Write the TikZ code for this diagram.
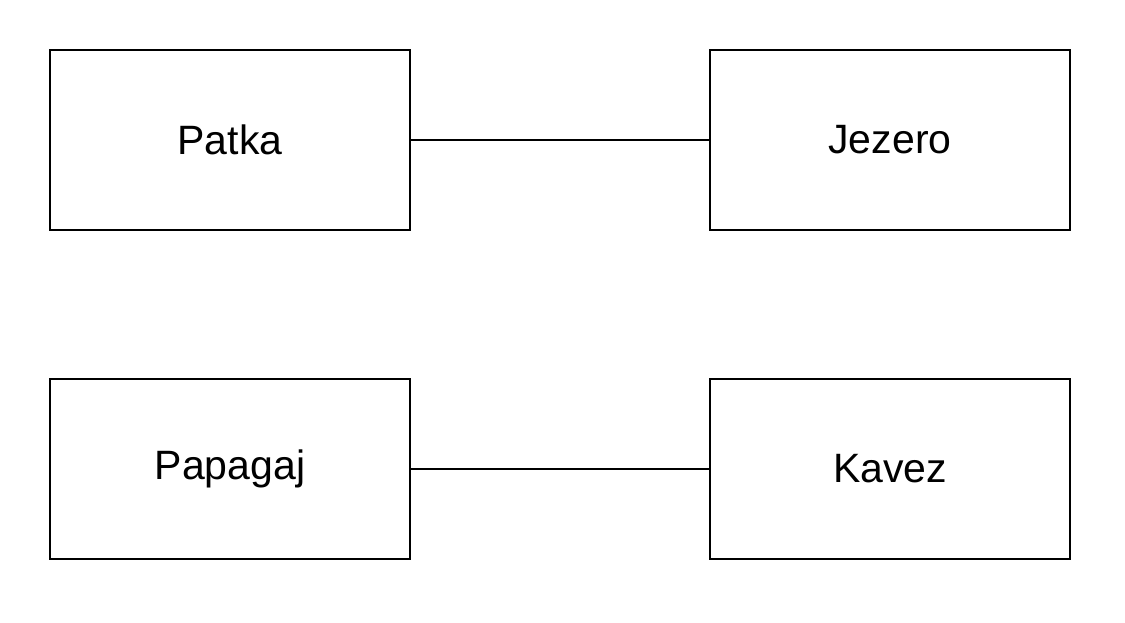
\documentclass[tikz,border=0pt]{standalone}
\usepackage{fontspec}
\setmainfont{Liberation Sans}
\begin{document}
\begin{tikzpicture}[x=1pt,y=-1pt,
  box/.style={draw,line width=2pt,minimum width=360pt,minimum height=180pt,inner sep=0pt,font=\fontsize{41}{48}\selectfont},
  link/.style={line width=2pt}]
\useasboundingbox (0,0) rectangle (1125,622);
\node[box] (patka) at (230,140) {Patka};
\node[box] (jezero) at (890,140) {Jezero};
\node[box] (papagaj) at (230,469) {Papagaj};
\node[box] (kavez) at (890,469) {Kavez};
\draw[link] (patka) -- (jezero);
\draw[link] (papagaj) -- (kavez);
\end{tikzpicture}
\end{document}
